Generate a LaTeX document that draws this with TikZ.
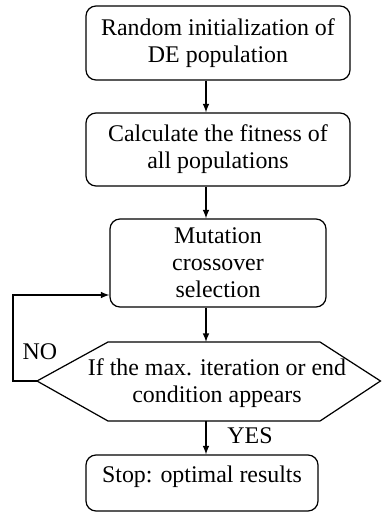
\documentclass[tikz,border=0pt]{standalone}
\usepackage{fontspec}
\setmainfont{Liberation Serif}
\begin{document}
\begin{tikzpicture}[
        box/.style={draw,rounded corners=0.2cm,align=center,line width=0.7pt,
            font=\fontsize{13.6}{15.4}\selectfont},
        lbl/.style={font=\fontsize{13.6}{15.4}\selectfont},
        arr/.style={-latex,line width=0.7pt}]
        \useasboundingbox (0,0) rectangle (7.64,-10.24);
        %% process boxes
        \node[box,minimum width=5.28cm,minimum height=1.48cm] (init) at (4.36,-0.86) {Random initialization of\\DE population};
        \node[box,minimum width=5.28cm,minimum height=1.46cm] (fit) at (4.36,-2.99) {Calculate the fitness of\\all populations};
        \node[box,minimum width=4.32cm,minimum height=1.76cm] (mut) at (4.36,-5.26) {Mutation\\crossover\\selection};
        %% decision
        \node[lbl,align=center] (dec) at (4.34,-7.66) {If the max. iteration or end\\condition appears};
        \coordinate (dl) at (0.74,-7.62);
        \coordinate (dtop) at (4.12,-6.84);
        \coordinate (dbot) at (4.12,-8.42);
        \draw[line width=0.7pt] (dl) -- (2.16,-6.84) -- (6.4,-6.84) -- (7.61,-7.62) -- (6.4,-8.42) -- (2.16,-8.42) -- cycle;
        %% stop
        \node[box,minimum width=4.64cm,minimum height=1.12cm,text depth=0.35cm] (stop) at (4.04,-9.66) {Stop: optimal results};
        %% arrows
        \coordinate (ax) at (4.12,0);
        \draw[arr] (init.south -| ax) -- (fit.north -| ax);
        \draw[arr] (fit.south -| ax) -- (mut.north -| ax);
        \draw[arr] (mut.south -| ax) -- (dtop);
        \draw[arr] (dbot) -- (stop.north -| ax) node[lbl,pos=0.45,right=0.3cm] (yes) {YES};
        \coordinate (back) at (0.26,-5.9);
        \draw[arr] (dl) -- (dl -| back) -- (back) -- (back -| mut.west);
        \node[lbl] (no) at (0.8,-7.04) {NO};
    \end{tikzpicture}
\end{document}
